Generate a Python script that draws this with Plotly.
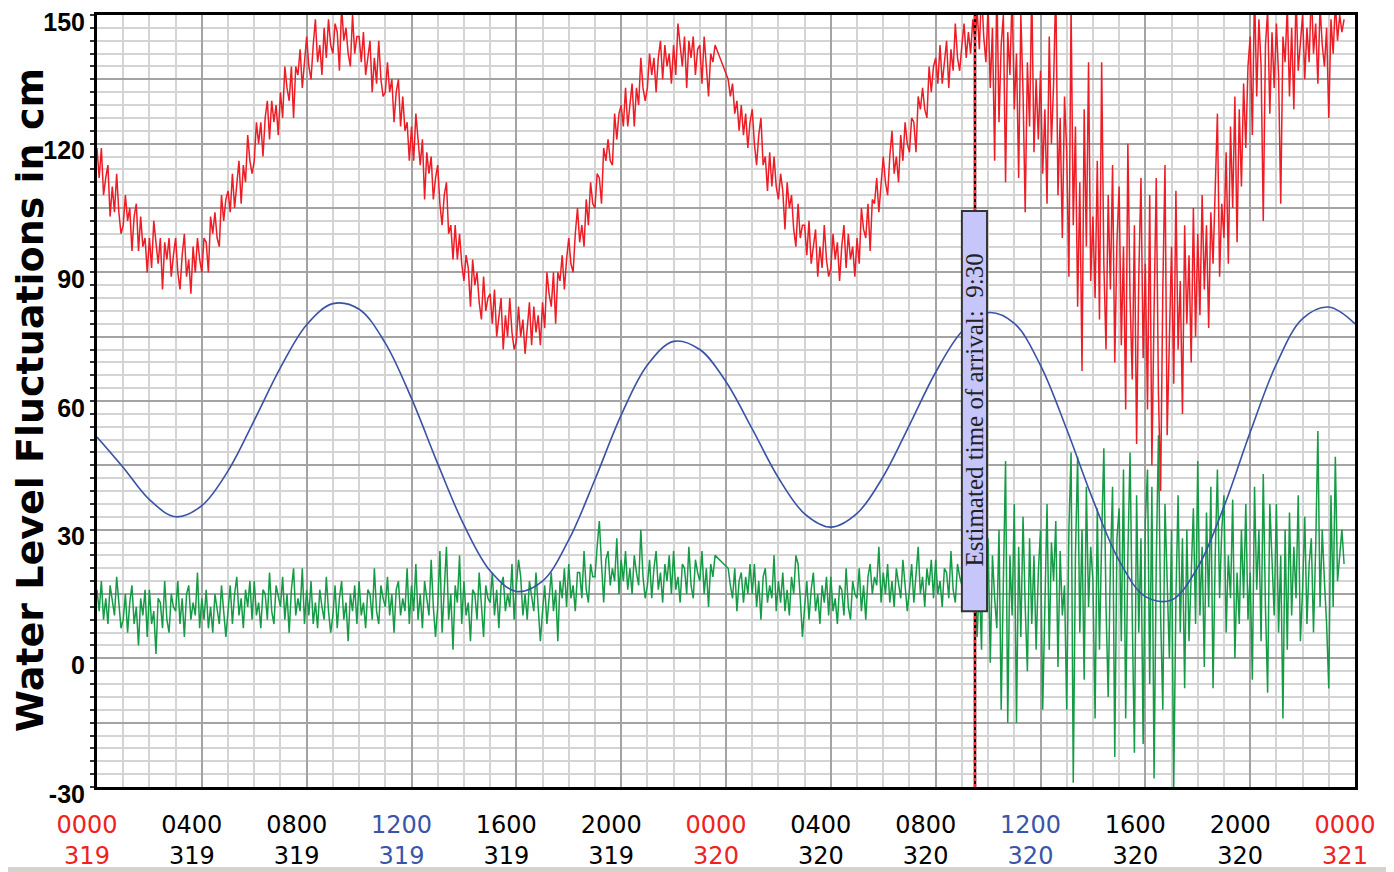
import plotly.graph_objects as go

# ---------------- data ----------------
TIME_LABELS = ["0000", "0400", "0800", "1200", "1600", "2000", "0000",
               "0400", "0800", "1200", "1600", "2000", "0000"]
DAY_LABELS = ["319", "319", "319", "319", "319", "319", "320",
              "320", "320", "320", "320", "320", "321"]
TICK_HOURS = [0, 4, 8, 12, 16, 20, 24, 28, 32, 36, 40, 44, 48]

# predicted tide (blue), hourly from 0000 day 319
PRED_HOURS = list(range(49))
PREDICTED = [51.6, 44.5, 37.0, 33.0, 35.6, 43.7, 55.5, 67.8, 77.8, 82.7,
             81.4, 73.5, 60.6, 45.4, 31.1, 20.4, 15.6, 18.0, 27.6, 41.7,
             56.7, 68.4, 73.9, 72.0, 64.5, 53.5, 42.1, 33.7, 30.6, 33.8,
             42.4, 54.4, 66.7, 76.2, 80.6, 78.1, 68.3, 53.4, 37.0, 22.8,
             14.4, 13.6, 21.2, 35.4, 52.7, 68.6, 79.2, 81.9, 78.0]

# observed water level (red), one row per hour, every 5 min (None = no data)
OBSERVED = [
    119, 112, 119, 108, 112, 115, 103, 110, 104, 113, 104, 99,
    101, 108, 102, 105, 95, 103, 106, 95, 103, 96, 98, 90,
    98, 91, 102, 96, 92, 98, 86, 97, 93, 98, 89, 94,
    98, 90, 86, 94, 99, 89, 93, 85, 96, 90, 98, 93,
    90, 98, 97, 90, 103, 99, 104, 98, 96, 108, 102, 107,
    109, 104, 113, 105, 111, 116, 106, 115, 111, 122, 116, 113,
    116, 125, 120, 125, 117, 126, 130, 121, 130, 125, 129, 122,
    132, 126, 138, 133, 130, 138, 126, 138, 136, 142, 133, 140,
    145, 138, 135, 143, 149, 139, 143, 136, 147, 140, 149, 143,
    141, 148, 146, 137, 152, 144, 147, 141, 138, 150, 141, 145,
    145, 139, 146, 136, 140, 144, 132, 140, 134, 144, 135, 131,
    132, 139, 132, 135, 125, 132, 135, 124, 131, 123, 125, 116,
    124, 116, 127, 120, 115, 121, 107, 118, 113, 117, 107, 112,
    115, 106, 101, 108, 111, 99, 101, 93, 101, 93, 99, 92,
    88, 94, 91, 82, 93, 87, 90, 83, 79, 89, 81, 84,
    85, 78, 86, 75, 80, 84, 72, 80, 75, 84, 76, 72,
    74, 82, 75, 79, 71, 78, 83, 73, 82, 76, 80, 73,
    83, 77, 90, 85, 82, 90, 78, 90, 88, 94, 86, 93,
    98, 92, 90, 99, 105, 97, 101, 96, 107, 101, 111, 106,
    105, 113, 112, 106, 119, 116, 121, 116, 115, 127, 121, 127,
    129, 124, 133, 124, 130, 134, 124, 133, 129, 140, 133, 130,
    133, 141, 136, 140, 132, 140, 144, 135, 143, 138, 141, 134,
    143, 136, 148, 142, 138, 145, 133, 144, 140, 145, 136, 142,
    143, 134, 145, 138, 131, 141, 139, 143, None, None, None, None,
    None, 135, 131, 134, 127, 130, 123, 129, 122, 127, 119, 125,
    128, 120, 115, 122, 126, 115, 117, 109, 118, 110, 117, 110,
    107, 113, 109, 100, 111, 105, 108, 100, 96, 106, 98, 101,
    101, 94, 102, 92, 96, 100, 89, 96, 91, 101, 93, 89,
    91, 99, 93, 97, 88, 96, 101, 91, 99, 93, 96, 89,
    98, 92, 105, 100, 98, 106, 95, 107, 106, 112, 104, 111,
    117, 111, 108, 117, 123, 113, 117, 111, 122, 116, 125, 120,
    118, 126, 125, 118, 131, 128, 133, 128, 126, 138, 132, 138,
    140, 134, 143, 134, 139, 144, 133, 142, 137, 148, 140, 137,
    143, 148, 140, 146, 141, 149, 144, 151, 142, 156, 145, 139,
    152, 133, 147, 116, 158, 125, 143, 150, 111, 146, 136, 155,
    128, 141, 112, 150, 132, 104, 139, 124, 156, 118, 135, 121,
    137, 113, 128, 106, 145, 120, 134, 157, 108, 126, 98, 131,
    118, 89, 152, 101, 124, 82, 111, 67, 128, 96, 139, 88,
    103, 84, 116, 79, 139, 92, 72, 108, 86, 115, 69, 97,
    110, 73, 96, 58, 120, 84, 65, 101, 50, 89, 112, 70,
    92, 58, 108, 45, 81, 112, 62, 39, 86, 115, 52, 77,
    96, 64, 109, 72, 88, 57, 101, 78, 94, 69, 105, 75,
    99, 80, 108, 86, 101, 77, 104, 92, 111, 127, 89, 106,
    98, 118, 92, 124, 105, 131, 97, 128, 110, 134, 119, 138,
    145, 122, 156, 131, 149, 138, 102, 143, 151, 127, 146, 133,
    148, 136, 106, 145, 139, 152, 131, 147, 128, 155, 137, 144,
    150, 135, 147, 139, 156, 141, 148, 134, 152, 143, 138, 147,
    126, 149, 141, 153, 144, 150, 146, 149,
]

# residual (green), same sampling as the observed series
RESIDUAL = [
    16, 11, 18, 9, 14, 8, 17, 13, 10, 19, 12, 7,
    9, 15, 6, 13, 17, 8, 12, 3, 14, 10, 16, 5,
    16, 8, 11, 1, 14, 13, 7, 18, 9, 6, 15, 12,
    11, 18, 8, 14, 5, 15, 17, 9, 13, 10, 20, 7,
    14, 9, 16, 7, 12, 6, 15, 11, 8, 17, 10, 5,
    11, 17, 8, 15, 19, 10, 14, 7, 16, 12, 18, 9,
    18, 10, 13, 7, 16, 15, 9, 20, 11, 8, 17, 14,
    12, 19, 9, 15, 6, 16, 21, 10, 14, 11, 21, 8,
    16, 10, 18, 8, 13, 7, 16, 12, 9, 19, 11, 6,
    10, 17, 7, 14, 18, 9, 13, 4, 15, 11, 17, 8,
    18, 10, 13, 7, 16, 15, 9, 21, 11, 8, 17, 14,
    12, 19, 10, 15, 6, 16, 18, 10, 14, 11, 21, 8,
    17, 11, 22, 9, 15, 7, 18, 14, 10, 23, 12, 5,
    12, 25, 6, 16, 26, 9, 15, 2, 17, 13, 24, 8,
    18, 10, 13, 4, 16, 15, 9, 20, 11, 5, 17, 14,
    13, 20, 10, 16, 7, 17, 19, 11, 15, 12, 22, 9,
    17, 23, 19, 10, 15, 9, 18, 14, 11, 20, 13, 4,
    11, 17, 8, 15, 20, 11, 16, 4, 18, 14, 21, 12,
    22, 14, 17, 11, 20, 20, 14, 25, 16, 13, 22, 19,
    19, 26, 32, 22, 13, 23, 25, 17, 21, 18, 28, 15,
    23, 18, 25, 16, 21, 15, 24, 20, 17, 30, 19, 14,
    17, 23, 14, 21, 25, 16, 20, 13, 22, 18, 24, 15,
    25, 16, 19, 13, 22, 21, 15, 26, 17, 14, 23, 20,
    18, 25, 15, 21, 12, 22, 19, 24, None, None, None, None,
    None, 21, 17, 14, 21, 11, 18, 20, 13, 19, 15, 22,
    15, 22, 12, 18, 9, 19, 21, 13, 17, 14, 24, 11,
    18, 13, 20, 11, 16, 10, 19, 15, 24, 22, 14, 5,
    12, 18, 9, 16, 20, 11, 15, 8, 17, 13, 19, 10,
    19, 11, 14, 8, 17, 16, 10, 21, 12, 9, 18, 15,
    14, 21, 11, 17, 9, 19, 22, 15, 19, 17, 26, 13,
    20, 15, 22, 13, 18, 12, 21, 17, 14, 23, 16, 11,
    16, 22, 13, 20, 26, 15, 19, 12, 21, 17, 23, 14,
    23, 15, 18, 12, 21, 20, 14, 25, 16, 13, 22, 19,
    17, 24, 14, 20, 26, 16, 19, 5, 18, 2, 36, 12,
    28, -1, 24, 14, 7, 30, -12, 18, 46, -15, 24, 10,
    36, -15, 26, 5, 33, 12, -3, 28, 8, 24, 2, 20,
    30, -12, 14, 36, 2, 27, 18, 32, -2, 25, 10, 17,
    -12, 30, 48, -29, 24, 47, 6, 30, -5, 40, 12, 26,
    18, -14, 35, 2, 28, 49, 12, -9, 22, 40, -23, 28,
    35, 4, 44, -14, 24, 48, 10, -22, 38, 6, 28, -20,
    32, 44, -6, 40, -28, 22, 52, 10, -12, 36, 18, 0,
    30, -30, 14, 38, 6, 28, -7, 30, 4, 20, 35, 8,
    46, 10, 26, -2, 34, 12, 40, -7, 24, 44, 14, 30,
    38, 6, 24, 14, 37, 0, 20, 8, 30, 14, 36, 9,
    20, -5, 40, 16, 30, 4, 43, 12, -8, 36, 22, 10,
    36, 6, 24, -14, 30, 2, 34, 10, 26, 14, 38, 4,
    16, 33, 8, 22, 28, 6, 26, 53, 12, 30, 18, 8,
    -7, 38, 12, 47, 18, 25, 30, 22,
]

SAMPLES_PER_HOUR = 12
ARRIVAL_HOUR = 33.5
ARRIVAL_TEXT = "Estimated time of arrival:\u00a0 9:30"

# sample times (hours since 0000 day 319)
t_obs = [k / SAMPLES_PER_HOUR for k in range(len(OBSERVED))]

RED = "#ee1c25"
BLUE = "#3a52a6"
GREEN = "#159b45"
LBL_RED = "#ee2222"
LBL_BLUE = "#3a55a8"


def lbl_color(t):
    if t == "0000":
        return LBL_RED
    if t == "1200":
        return LBL_BLUE
    return "#000000"


ticktext = [
    f"<span style='color:{lbl_color(t)}'>{t}</span><br>"
    f"<span style='color:{lbl_color(t)}'>{d}</span>"
    for t, d in zip(TIME_LABELS, DAY_LABELS)
]

fig = go.Figure()
fig.add_trace(go.Scatter(x=t_obs, y=RESIDUAL, mode="lines", connectgaps=True,
                         line=dict(color=GREEN, width=1.5), showlegend=False))
fig.add_trace(go.Scatter(x=t_obs, y=OBSERVED, mode="lines", connectgaps=True,
                         line=dict(color=RED, width=1.5), showlegend=False))
fig.add_trace(go.Scatter(x=PRED_HOURS, y=PREDICTED, mode="lines",
                         line=dict(color=BLUE, width=1.6, shape="spline"),
                         showlegend=False))

# y ticks every 15 (dark grid), labels every 30
y_vals = list(range(-30, 151, 15))
y_text = [str(v) if v % 30 == 0 else "" for v in y_vals]

# page body has an 8px margin: figure is 1386x864 so it fits the 1394x872 window
fig.update_layout(
    width=1386, height=864,
    margin=dict(l=89, r=39, t=7, b=85, autoexpand=False),
    paper_bgcolor="white", plot_bgcolor="white",
    xaxis=dict(
        range=[0, 48], tickmode="array", tickvals=TICK_HOURS, ticktext=ticktext,
        showgrid=True, gridcolor="#a3a3a3", gridwidth=2, automargin=False,
        minor=dict(dtick=1, tick0=0, showgrid=True, gridcolor="#d4d4d4", gridwidth=2),
        showline=True, linecolor="black", linewidth=3, mirror=True,
        ticks="", zeroline=False,
        tickfont=dict(family="DejaVu Sans, Verdana, sans-serif", size=24, color="black"),
        ticklabelshift=-10, ticklabelstandoff=14, ticklabeloverflow="allow",
    ),
    yaxis=dict(
        range=[-30, 150], tickmode="array", tickvals=y_vals, ticktext=y_text,
        showgrid=True, gridcolor="#a3a3a3", gridwidth=2, automargin=False,
        minor=dict(dtick=3, tick0=0, showgrid=True, gridcolor="#d4d4d4", gridwidth=2,
                   ticks="outside", ticklen=4, tickcolor="#333", tickwidth=2),
        showline=True, linecolor="black", linewidth=3, mirror=True,
        ticks="outside", ticklen=4, tickcolor="#333", tickwidth=2, zeroline=False,
        tickfont=dict(family="Liberation Sans, Arial, sans-serif", size=25,
                      color="black", weight="bold"),
        ticklabelshift=7, ticklabeloverflow="allow",
    ),
)

# arrival marker line: black with red dots
fig.add_shape(type="line", x0=ARRIVAL_HOUR, x1=ARRIVAL_HOUR, y0=0, y1=1,
              xref="x", yref="paper", line=dict(color="black", width=2.5), layer="above")
fig.add_shape(type="line", x0=ARRIVAL_HOUR, x1=ARRIVAL_HOUR, y0=0, y1=1,
              xref="x", yref="paper", line=dict(color="#ff3030", width=2.5, dash="dot"),
              layer="above")
# label box
fig.add_shape(type="rect", x0=ARRIVAL_HOUR - 0.5, x1=ARRIVAL_HOUR + 0.46, y0=11.0, y1=104.3,
              xref="x", yref="y", fillcolor="#c6c6fb", line=dict(color="#333333", width=2),
              layer="above")
fig.add_annotation(x=ARRIVAL_HOUR - 0.02, y=57.9, xref="x", yref="y", text=ARRIVAL_TEXT,
                   textangle=-90, showarrow=False,
                   font=dict(family="Liberation Serif, Times New Roman, serif", size=25,
                             color="#222222"))
# y axis title
fig.add_annotation(x=-0.0527, y=0.501, xref="paper", yref="paper",
                   text="Water Level Fluctuations in cm", textangle=-90, showarrow=False,
                   xanchor="center", yanchor="middle",
                   font=dict(family="DejaVu Sans, Verdana, sans-serif", size=38,
                             color="black", weight="bold"))
# window bottom strip
fig.add_shape(type="rect", xref="paper", yref="paper",
              x0=-89 / 1258, x1=1297 / 1258, y0=(779 - 866) / 772, y1=(779 - 859) / 772,
              fillcolor="#d6d3ce", line=dict(width=0), layer="above")

fig.write_html("out.html")
